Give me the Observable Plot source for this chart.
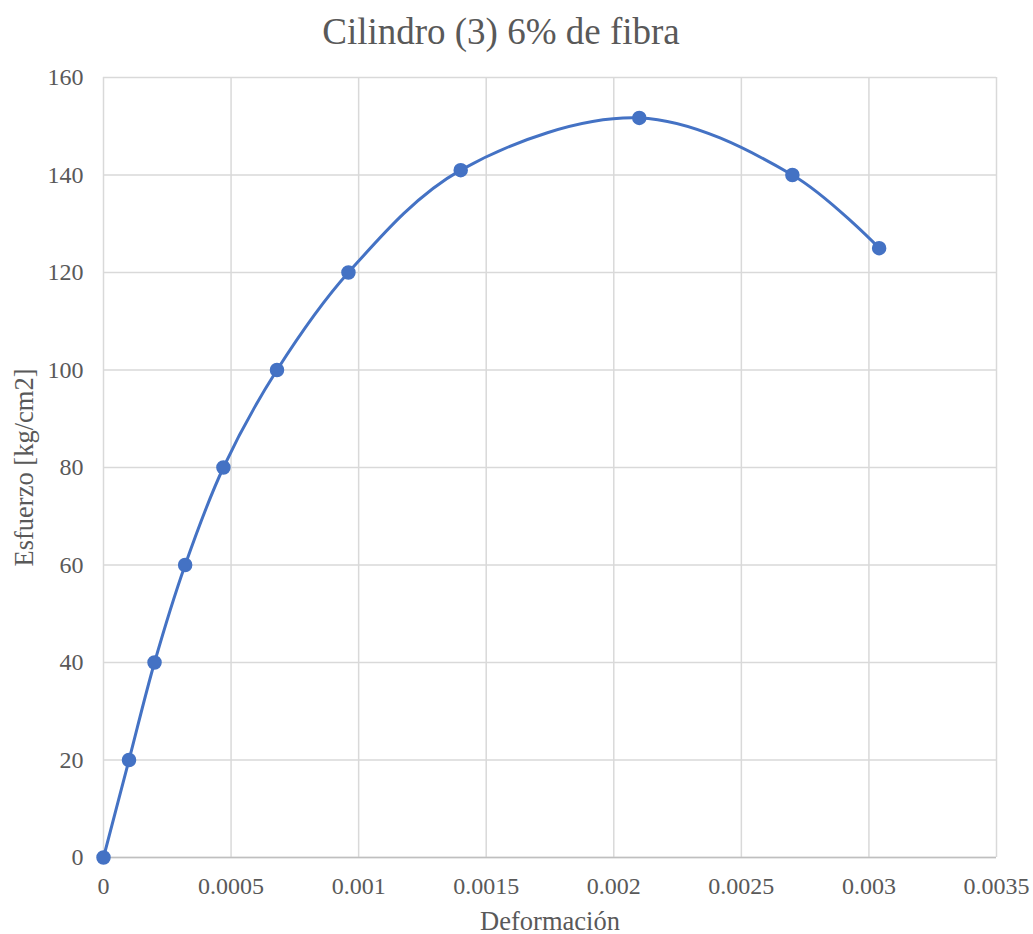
<!DOCTYPE html>
<html>
<head>
<meta charset="utf-8">
<script src="https://cdn.jsdelivr.net/npm/d3@7"></script>
<script src="https://cdn.jsdelivr.net/npm/@observablehq/plot@0.6"></script>
<style>
  body { margin: 0; background: #fff; }
  #title { width: 1002px; height: 60px; line-height: 63px; text-align: center;
    font-family: "Liberation Serif", "Times New Roman", serif; font-size: 37px; color: #595959; }
  g[aria-label="x-axis label"], g[aria-label="y-axis label"] { font-size: 26.5px !important; }
  g[aria-label="x-axis tick label"], g[aria-label="y-axis tick label"] { font-size: 24px !important; }
</style>
</head>
<body>
<div id="title">Cilindro (3) 6% de fibra</div>
<div id="chart"></div>
<script>
const deformacion = [0, 0.0001, 0.0002, 0.00032, 0.00047, 0.00068, 0.00096, 0.0014, 0.0021, 0.0027, 0.00304];
const esfuerzo = [0, 20, 40, 60, 80, 100, 120, 141, 151.7, 140, 125];
const xTicks = [0, 0.0005, 0.001, 0.0015, 0.002, 0.0025, 0.003, 0.0035];
const yTicks = [0, 20, 40, 60, 80, 100, 120, 140, 160];

const data = deformacion.map((d, i) => ({x: d, y: esfuerzo[i]}));
const color = "#4472C4";
const grid = "#d9d9d9";

const chart = Plot.plot({
  width: 1033,
  height: 874,
  marginTop: 17,
  marginBottom: 77,
  marginLeft: 103,
  marginRight: 37,
  style: {fontFamily: "'Liberation Serif', 'Times New Roman', serif", fontSize: "24px", color: "#595959", background: "#fff"},
  x: {domain: [0, 0.0035], ticks: xTicks, tickFormat: d => String(d), tickSize: 0, tickPadding: 19,
      label: "Deformación", labelAnchor: "center", labelArrow: "none", labelOffset: 72},
  y: {domain: [0, 160], ticks: yTicks, tickSize: 0, tickPadding: 20,
      label: "Esfuerzo [kg/cm2]", labelAnchor: "center", labelArrow: "none", labelOffset: 89},
  marks: [
    Plot.gridX(xTicks, {stroke: grid, strokeOpacity: 1, strokeWidth: 1.5}),
    Plot.gridY(yTicks, {stroke: grid, strokeOpacity: 1, strokeWidth: 1.5}),
    Plot.ruleY([0], {stroke: "#bfbfbf", strokeWidth: 1.5}),
    Plot.line(data, {x: "x", y: "y", curve: "catmull-rom", stroke: color, strokeWidth: 3}),
    Plot.dot(data, {x: "x", y: "y", r: 6.5, fill: color, stroke: color})
  ]
});
document.getElementById("chart").appendChild(chart);
</script>
</body>
</html>
